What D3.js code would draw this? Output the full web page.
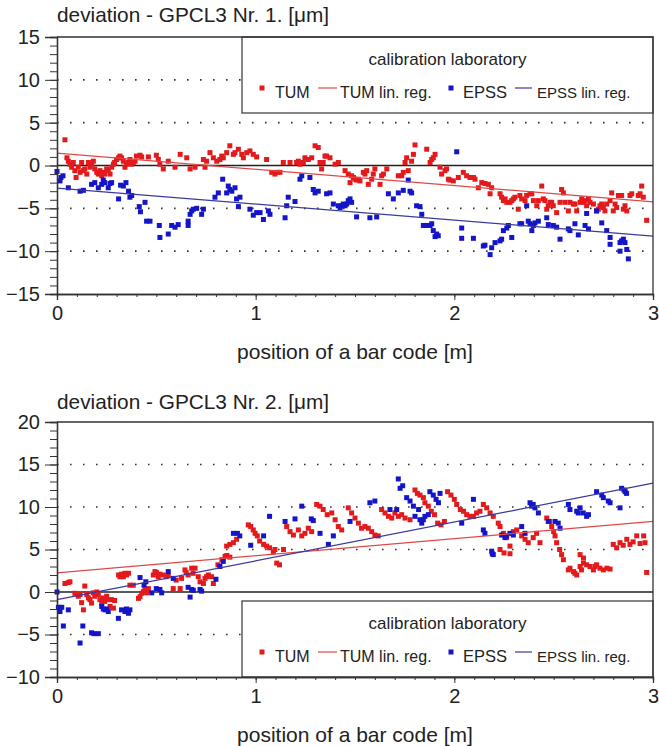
<!DOCTYPE html>
<html><head><meta charset="utf-8">
<script src="https://cdn.jsdelivr.net/npm/d3@7"></script>
<style>
body{margin:0;background:#fff}
text{font-family:"Liberation Sans",Arial,Helvetica,sans-serif;fill:#222}
</style>
</head><body>
<svg id="c" width="659" height="746"></svg>
<script>
// ---------------- data ----------------
const titles = ["deviation - GPCL3 Nr. 1. [\u03bcm]", "deviation - GPCL3 Nr. 2. [\u03bcm]"];
const xLabel = "position of a bar code [m]";
const legendTitle = "calibration laboratory";
const legendLabels = ["TUM", "TUM lin. reg.", "EPSS", "EPSS lin. reg."];
const xTicks = [0, 1, 2, 3];
const yTicks1 = [-15, -10, -5, 0, 5, 10, 15];
const yGrid1 = [-10, -5, 5, 10];
const yTicks2 = [-10, -5, 0, 5, 10, 15, 20];
const yGrid2 = [-5, 5, 10, 15];

// regression lines: value at x=0 and at x=3
const tumReg1 = [1.45, -4.24];
const epssReg1 = [-2.64, -8.24];
const tumReg2 = [2.25, 8.3];
const epssReg2 = [-0.9, 12.8];

const tum1 = [
[0.04,3.0],[0.05,0.9],[0.057,0.5],[0.065,0.15],[0.074,-0.2],[0.082,0.35],[0.09,-0.6],[0.096,-1.4],[0.107,-0.2],[0.116,-0.8],[0.124,0.35],[0.133,-0.6],[0.14,-0.4],[0.15,-1.0],[0.158,0.35],[0.166,-0.2],[0.174,0.15],[0.183,0.5],[0.19,-0.4],[0.2,-0.8],[0.208,-1.0],[0.216,-0.6],[0.225,-1.2],[0.233,-0.8],[0.24,-1.0],[0.25,-0.4],[0.258,-0.6],[0.267,-1.0],[0.275,-0.2],[0.284,0.15],[0.29,0.35],[0.3,0.7],[0.31,0.9],[0.317,1.1],[0.325,0.9],[0.334,0.5],[0.342,-0.2],[0.35,0.15],[0.36,0.35],[0.367,0.7],[0.376,0.15],[0.384,0.35],[0.393,0.5],[0.40,1.1],[0.418,1.2],[0.426,1.0],[0.46,1.0],[0.50,1.2],[0.51,0.7],[0.518,0.15],[0.535,-0.4],[0.56,0.5],[0.594,-0.2],[0.62,1.3],[0.653,0.9],[0.67,-0.4],[0.695,-0.2],[0.737,0.7],[0.745,-0.2],[0.753,0.5],[0.77,1.5],[0.787,0.9],[0.804,0.5],[0.82,0.7],[0.829,1.1],[0.837,0.9],[0.854,1.5],[0.87,2.3],[0.888,1.3],[0.896,1.5],[0.913,1.9],[0.93,1.3],[0.938,0.9],[0.955,1.5],[0.971,1.7],[0.988,1.3],[1.005,1.0],
[1.055,0.7],[1.081,-0.8],[1.097,-1.0],[1.106,-0.8],[1.122,-0.8],[1.139,0.35],[1.173,0.35],[1.206,0.35],[1.215,0.5],[1.223,0.15],[1.24,0.35],[1.248,0.9],[1.265,0.7],[1.282,0.9],[1.299,2.3],[1.315,2.1],[1.324,0.35],[1.332,-0.4],[1.34,0.35],[1.349,1.1],[1.357,1.1],[1.374,0.9],[1.4,0.15],[1.416,0.35],[1.45,-0.6],[1.466,-1.0],[1.475,-2.0],[1.483,-1.2],[1.492,-1.4],[1.5,-1.6],[1.508,-1.7],[1.517,-1.6],[1.525,-1.8],[1.542,-0.8],[1.55,-1.0],[1.559,-0.6],[1.567,-2.2],[1.584,-1.6],[1.592,-1.0],[1.6,-0.4],[1.626,-2.2],[1.634,-1.2],[1.643,-1.0],[1.66,-0.4],[1.718,-1.2],[1.735,-1.2],[1.743,-0.8],[1.752,0.35],[1.76,0.9],[1.768,-0.6],[1.785,0.5],[1.794,1.3],[1.802,2.4],[1.861,1.9],[1.878,0.35],[1.886,0.7],[1.894,0.9],[1.903,1.3],[1.928,-0.2],[1.936,-1.0],[1.953,-0.6],[1.961,-0.4],[1.97,-1.6],[1.978,-1.7],[1.995,-1.8],[2.02,-1.4],
[2.045,-0.8],[2.062,-1.2],[2.079,-1.4],[2.096,-1.4],[2.104,-1.6],[2.121,-2.6],[2.138,-2.0],[2.154,-2.1],[2.171,-2.2],[2.18,-3.3],[2.188,-2.6],[2.23,-3.3],[2.238,-3.7],[2.247,-4.1],[2.255,-3.9],[2.264,-4.3],[2.28,-4.3],[2.289,-4.1],[2.297,-3.9],[2.305,-3.7],[2.322,-5.1],[2.33,-3.5],[2.339,-3.9],[2.356,-4.1],[2.364,-3.5],[2.381,-3.3],[2.39,-3.3],[2.398,-4.1],[2.415,-4.7],[2.423,-4.1],[2.44,-2.4],[2.448,-3.9],[2.456,-4.1],[2.465,-5.1],[2.473,-4.7],[2.482,-4.3],[2.49,-4.3],[2.498,-4.7],[2.515,-5.5],[2.532,-4.3],[2.54,-2.8],[2.549,-3.2],[2.557,-4.3],[2.574,-5.3],[2.582,-4.3],[2.599,-4.5],[2.607,-4.5],[2.616,-5.3],[2.633,-4.3],[2.641,-3.9],[2.649,-4.3],[2.658,-4.1],[2.666,-4.7],[2.675,-3.9],[2.683,-4.3],[2.7,-4.5],[2.716,-5.3],[2.725,-5.1],[2.733,-4.7],[2.742,-4.5],[2.75,-4.9],[2.758,-5.3],[2.767,-4.5],[2.784,-4.1],[2.792,-3.2],[2.8,-5.3],[2.809,-4.5],[2.817,-4.9],[2.826,-3.5],[2.842,-3.5],[2.851,-5.1],[2.859,-4.7],[2.868,-5.3],[2.884,-3.5],[2.893,-3.3],[2.926,-3.5],[2.935,-3.3],[2.943,-2.4],[2.951,-3.7],[2.968,-6.4]
];

const epss1 = [
[0.0,-0.7],[0.015,-1.8],[0.02,-1.4],[0.03,-1.2],[0.057,-2.6],[0.116,-3.0],[0.133,-2.9],[0.174,-2.2],[0.19,-2.0],[0.208,-2.6],[0.225,-2.2],[0.233,-1.7],[0.24,-2.0],[0.258,-2.6],[0.267,-2.1],[0.275,-2.0],[0.31,-3.9],[0.32,-2.3],[0.334,-2.4],[0.347,-2.0],[0.36,-3.0],[0.367,-3.7],[0.376,-3.5],[0.414,-4.8],[0.42,-5.4],[0.443,-4.3],[0.451,-6.5],[0.468,-6.5],[0.515,-7.0],[0.518,-8.4],[0.56,-8.0],[0.577,-7.0],[0.594,-7.2],[0.61,-6.9],[0.66,-6.5],[0.66,-7.0],[0.67,-5.7],[0.678,-5.3],[0.686,-5.1],[0.703,-5.0],[0.728,-5.7],[0.737,-5.1],[0.795,-3.7],[0.812,-3.2],[0.834,-1.6],[0.854,-3.2],[0.862,-2.4],[0.87,-2.8],[0.88,-3.0],[0.896,-2.6],[0.904,-3.9],[0.913,-4.8],[0.921,-3.7],[0.971,-5.1],[0.988,-5.8],[1.005,-5.5],
[1.022,-5.5],[1.039,-6.3],[1.064,-5.3],[1.072,-5.7],[1.148,-6.1],[1.156,-4.7],[1.164,-3.7],[1.198,-4.2],[1.223,-1.6],[1.232,-1.2],[1.273,-1.4],[1.29,-2.8],[1.299,-3.2],[1.315,-3.0],[1.357,-3.3],[1.374,-3.2],[1.391,-4.5],[1.416,-4.7],[1.425,-4.9],[1.433,-4.7],[1.441,-4.5],[1.45,-4.7],[1.458,-4.5],[1.466,-4.1],[1.475,-3.9],[1.483,-4.3],[1.508,-6.0],[1.575,-6.1],[1.609,-6.0],[1.668,-3.3],[1.693,-3.9],[1.718,-3.2],[1.743,-2.9],[1.768,-1.7],[1.777,-3.0],[1.785,-3.2],[1.81,-4.7],[1.827,-4.8],[1.836,-5.7],[1.844,-7.0],[1.861,-7.0],[1.878,-7.0],[1.886,-6.8],[1.894,-7.6],[1.903,-8.3],[1.911,-8.0],[1.919,-8.2],[2.012,1.6],
[2.037,-7.3],[2.037,-8.5],[2.096,-8.5],[2.146,-9.4],[2.154,-9.3],[2.18,-10.4],[2.188,-9.6],[2.205,-9.0],[2.23,-8.8],[2.238,-8.6],[2.247,-7.6],[2.264,-7.3],[2.272,-7.0],[2.289,-8.4],[2.33,-6.8],[2.339,-6.8],[2.364,-4.7],[2.372,-6.5],[2.381,-6.8],[2.39,-7.6],[2.398,-7.0],[2.406,-6.7],[2.423,-6.5],[2.465,-6.1],[2.473,-6.9],[2.498,-7.0],[2.515,-7.2],[2.532,-8.6],[2.574,-7.4],[2.582,-7.6],[2.607,-6.8],[2.624,-8.1],[2.658,-7.0],[2.666,-5.6],[2.675,-7.4],[2.716,-5.3],[2.742,-6.7],[2.767,-7.6],[2.784,-8.4],[2.784,-9.2],[2.834,-9.0],[2.842,-8.8],[2.851,-8.6],[2.859,-9.0],[2.834,-10.0],[2.868,-9.8],[2.876,-10.9]
];

const tum2 = [
[0.04,1.0],[0.057,1.1],[0.065,1.2],[0.09,-0.15],[0.098,-0.2],[0.107,-0.5],[0.116,-0.3],[0.124,-1.25],[0.133,-2.1],[0.14,0.7],[0.15,-0.3],[0.158,-0.7],[0.166,-0.9],[0.174,-1.3],[0.183,-0.1],[0.19,-0.5],[0.2,0.0],[0.208,-0.3],[0.216,-0.9],[0.225,-1.3],[0.233,-0.7],[0.24,-1.1],[0.25,-0.5],[0.258,-0.9],[0.267,-1.7],[0.275,-0.9],[0.284,-1.9],[0.29,-1.0],[0.31,2.0],[0.317,1.8],[0.325,2.1],[0.334,1.8],[0.342,2.2],[0.35,2.0],[0.36,2.2],[0.367,0.8],[0.384,0.8],[0.41,-0.75],[0.418,-0.55],[0.426,-0.15],[0.435,0.05],[0.443,0.25],[0.451,-0.1],[0.46,0.4],[0.485,2.0],[0.493,2.4],[0.5,2.3],[0.51,1.8],[0.518,2.1],[0.535,2.0],[0.55,1.8],[0.56,2.0],[0.585,0.4],[0.6,1.4],[0.62,0.4],[0.627,1.6],[0.644,2.6],[0.65,2.3],[0.66,2.0],[0.678,2.8],[0.685,2.2],[0.695,2.8],[0.711,1.8],[0.72,1.2],[0.737,1.0],[0.745,1.6],[0.753,1.8],[0.762,2.0],[0.778,1.8],[0.787,1.0],[0.81,3.2],[0.83,3.8],[0.846,4.2],[0.855,4.3],[0.87,4.1],
[0.854,5.4],[0.87,5.6],[0.888,5.8],[0.904,6.2],[0.963,7.9],[0.975,7.7],[0.988,7.3],[0.997,6.9],[1.008,6.6],[1.02,6.0],[1.04,5.6],[1.055,5.4],[1.07,5.2],[1.089,4.7],[1.097,5.0],[1.106,3.4],[1.12,3.2],[1.14,5.0],[1.156,7.7],[1.173,7.1],[1.19,6.7],[1.215,7.3],[1.232,6.6],[1.248,6.9],[1.265,7.5],[1.282,7.1],[1.307,10.3],[1.324,10.1],[1.34,9.7],[1.36,9.1],
[1.383,9.3],[1.4,8.5],[1.416,7.7],[1.433,7.3],[1.466,9.9],[1.483,9.3],[1.5,8.7],[1.517,8.1],[1.533,7.5],[1.55,7.7],[1.567,7.5],[1.584,7.1],[1.6,6.7],[1.617,6.6],[1.634,9.7],[1.651,9.3],[1.668,8.9],[1.685,8.7],[1.701,9.3],[1.718,8.9],[1.735,9.1],[1.752,8.7],[1.777,8.5],[1.802,12.0],[1.814,11.6],[1.827,11.4],[1.844,11.1],[1.852,10.5],[1.869,10.1],[1.884,9.5],[1.9,9.1],[1.916,8.1],[1.933,7.9],[1.95,8.3],[1.966,11.8],[1.983,11.4],[2.0,10.9],[2.012,10.3],[2.03,9.7],[2.046,9.5],[2.062,9.1],[2.079,8.9],[2.096,8.9],[2.112,9.3],[2.129,9.5],[2.146,10.3],[2.163,9.9],[2.18,9.3],[2.196,8.9],[2.221,8.1],[2.23,7.7],[2.247,6.9],[2.263,6.4],[2.28,5.4],[2.297,7.1],[2.314,7.3],[2.339,6.6],[2.356,6.2],[2.372,5.8],[2.397,6.4],[2.414,6.9],[2.431,5.8],[2.465,8.7],[2.48,8.3],[2.49,7.7],[2.5,7.1],[2.507,6.6],[2.515,5.8],[2.53,5.0],[2.54,4.4],[2.549,3.8],[2.23,5.0],[2.25,4.6],[2.28,4.5],
[2.574,2.6],[2.582,2.8],[2.6,2.4],[2.607,2.2],[2.616,2.0],[2.633,3.0],[2.633,4.4],[2.64,2.6],[2.65,3.4],[2.65,4.0],[2.666,3.2],[2.683,3.0],[2.7,2.6],[2.708,3.0],[2.716,3.2],[2.733,2.8],[2.75,2.6],[2.768,2.8],[2.784,2.7],[2.8,5.6],[2.817,5.2],[2.834,5.8],[2.85,5.5],[2.868,6.2],[2.884,5.6],[2.9,5.9],[2.918,6.6],[2.935,5.7],[2.953,6.6],[2.96,5.8],[2.968,2.3]
];

const epss2 = [
[0.0,0.0],[0.007,-1.8],[0.015,-2.3],[0.024,-1.8],[0.032,-4.0],[0.057,-2.1],[0.116,-6.0],[0.13,-4.0],[0.174,-4.8],[0.186,-4.9],[0.208,-4.9],[0.225,-1.7],[0.233,-2.0],[0.242,-2.1],[0.25,-2.0],[0.258,-2.3],[0.309,-3.1],[0.325,-2.1],[0.342,-2.3],[0.35,-2.0],[0.36,-2.5],[0.367,-2.1],[0.418,1.7],[0.438,0.8],[0.447,1.2],[0.477,-0.1],[0.5,0.4],[0.518,0.3],[0.527,-0.1],[0.56,2.4],[0.585,1.6],[0.66,0.55],[0.67,-0.6],[0.678,0.3],[0.686,0.2],[0.72,0.3],[0.728,0.1],[0.8,1.5],[0.82,3.0],[0.837,3.6],
[0.888,6.9],[0.908,6.9],[0.92,6.6],[0.975,5.5],[1.04,6.6],[1.07,8.9],[1.148,8.3],[1.198,8.6],[1.232,10.1],[1.28,8.6],[1.29,8.4],[1.324,6.9],[1.366,5.6],[1.391,6.6],[1.475,8.3],[1.575,10.5],[1.6,10.7],[1.676,9.7],[1.71,9.7],[1.718,13.3],[1.727,12.2],[1.74,12.5],[1.76,11.1],[1.777,10.7],[1.794,10.1],[1.802,8.9],[1.82,9.7],[1.827,8.5],[1.836,8.1],[1.844,8.5],[1.852,8.9],[1.869,9.1],[1.877,11.8],[1.894,11.4],[1.908,10.9],[1.92,10.5],[1.928,11.6],[2.037,8.1],[2.096,10.9],[2.146,7.3],[2.154,6.9],[2.188,4.8],[2.196,4.4],[2.191,4.5],[2.238,6.7],[2.255,6.4],[2.263,6.6],[2.28,6.9],[2.297,6.7],[2.339,7.7],[2.356,6.9],[2.381,10.5],[2.389,10.1],[2.397,10.3],[2.406,9.9],[2.423,9.3],[2.473,8.3],[2.507,8.3],[2.523,8.1],[2.532,7.5],[2.574,10.3],[2.582,9.7],[2.616,9.5],[2.624,9.3],[2.633,9.9],[2.649,9.3],[2.666,8.9],[2.675,9.1],[2.716,11.8],[2.742,11.4],[2.75,11.1],[2.775,10.7],[2.784,10.5],[2.834,9.9],[2.842,12.2],[2.854,12.0],[2.86,11.8],[2.867,11.6]
];

// ---------------- drawing ----------------
const RED = "#e31a1c", BLUE = "#1414c8";
const REDLINE = "#e04848", BLUELINE = "#3a3aa0";
const svg = d3.select("#c");
const L = 57, R = 653;

const panels = [
  {title: titles[0], titleY: 22, top: 37, bottom: 294, domain: [-15, 15], ticks: yTicks1, grid: yGrid1,
   tum: tum1, epss: epss1, tumReg: tumReg1, epssReg: epssReg1, legTop: 37},
  {title: titles[1], titleY: 409, top: 422, bottom: 677, domain: [-10, 20], ticks: yTicks2, grid: yGrid2,
   tum: tum2, epss: epss2, tumReg: tumReg2, epssReg: epssReg2, legTop: 601}
];

panels.forEach(p => {
  const g = svg.append("g");
  const x = d3.scaleLinear().domain([0, 3]).range([L, R]);
  const y = d3.scaleLinear().domain(p.domain).range([p.bottom, p.top]);

  // title
  g.append("text").attr("x", L).attr("y", p.titleY).attr("font-size", 20.8).text(p.title);

  // dotted grid
  g.selectAll(".grid").data(p.grid).join("line")
    .attr("x1", L).attr("x2", R).attr("y1", d => y(d)).attr("y2", d => y(d))
    .attr("stroke", "#333").attr("stroke-width", 1.6).attr("stroke-dasharray", "1.6,11.4");

  // zero line
  g.append("line").attr("x1", L).attr("x2", R).attr("y1", y(0)).attr("y2", y(0))
    .attr("stroke", "#222").attr("stroke-width", 1.3);

  // points
  const sz = 5;
  g.selectAll(".tum").data(p.tum).join("rect")
    .attr("x", d => x(d[0]) - sz/2).attr("y", d => y(d[1]) - sz/2)
    .attr("width", sz).attr("height", sz).attr("fill", RED);
  g.selectAll(".epss").data(p.epss).join("rect")
    .attr("x", d => x(d[0]) - sz/2).attr("y", d => y(d[1]) - sz/2)
    .attr("width", sz).attr("height", sz).attr("fill", BLUE);

  // regression lines
  g.append("line").attr("x1", x(0)).attr("x2", x(3)).attr("y1", y(p.tumReg[0])).attr("y2", y(p.tumReg[1]))
    .attr("stroke", REDLINE).attr("stroke-width", 1.2);
  g.append("line").attr("x1", x(0)).attr("x2", x(3)).attr("y1", y(p.epssReg[0])).attr("y2", y(p.epssReg[1]))
    .attr("stroke", BLUELINE).attr("stroke-width", 1.2);

  // legend
  const lg = g.append("g").attr("transform", `translate(242,${p.legTop})`);
  lg.append("rect").attr("x", 0).attr("y", 0).attr("width", R - 242).attr("height", 76)
    .attr("fill", "#fff").attr("stroke", "#444").attr("stroke-width", 1.3);
  lg.append("text").attr("x", (R - 242) / 2).attr("y", 28).attr("text-anchor", "middle")
    .attr("font-size", 17).text(legendTitle);
  lg.append("rect").attr("x", 20 - 2.5).attr("y", 51 - 2.5).attr("width", 5).attr("height", 5).attr("fill", RED);
  lg.append("text").attr("x", 33).attr("y", 61).attr("font-size", 16).text(legendLabels[0]);
  lg.append("line").attr("x1", 76).attr("x2", 95).attr("y1", 51).attr("y2", 51).attr("stroke", REDLINE).attr("stroke-width", 1.2);
  lg.append("text").attr("x", 98).attr("y", 61).attr("font-size", 16).text(legendLabels[1]);
  lg.append("rect").attr("x", 209 - 2.5).attr("y", 51 - 2.5).attr("width", 5).attr("height", 5).attr("fill", BLUE);
  lg.append("text").attr("x", 221).attr("y", 61).attr("font-size", 16.5).text(legendLabels[2]);
  lg.append("line").attr("x1", 273).attr("x2", 290).attr("y1", 51).attr("y2", 51).attr("stroke", BLUELINE).attr("stroke-width", 1.2);
  lg.append("text").attr("x", 295).attr("y", 61).attr("font-size", 15).text(legendLabels[3]);

  // frame top & right
  g.append("path").attr("d", `M${L},${p.top}H${R}V${p.bottom}`).attr("fill", "none")
    .attr("stroke", "#333").attr("stroke-width", 1.3);

  // y axis: minor + major
  const minorY = d3.range(p.domain[0], p.domain[1] + 1, 1);
  const yMinor = g.append("g").attr("transform", `translate(${L},0)`)
    .call(d3.axisLeft(y).tickValues(minorY).tickSize(7).tickFormat(""));
  const yMajor = g.append("g").attr("transform", `translate(${L},0)`)
    .call(d3.axisLeft(y).tickValues(p.ticks).tickSize(12).tickPadding(5).tickFormat(d3.format("d")));
  [yMinor, yMajor].forEach(a => {
    a.select(".domain").attr("stroke", "#333").attr("stroke-width", 1.3);
    a.selectAll(".tick line").attr("stroke", "#333");
    a.selectAll("text").attr("font-size", 20).attr("font-family", '"Liberation Sans",Arial,sans-serif').attr("fill", "#222");
  });

  // x axis: minor + major
  const minorX = d3.range(0, 31).map(i => i / 10);
  const xMinor = g.append("g").attr("transform", `translate(0,${p.bottom})`)
    .call(d3.axisBottom(x).tickValues(minorX).tickSize(3).tickFormat(""));
  const xMajor = g.append("g").attr("transform", `translate(0,${p.bottom})`)
    .call(d3.axisBottom(x).tickValues(xTicks).tickSize(6).tickPadding(6).tickFormat(d3.format("d")));
  [xMinor, xMajor].forEach(a => {
    a.select(".domain").attr("stroke", "#333").attr("stroke-width", 1.3);
    a.selectAll(".tick line").attr("stroke", "#333");
    a.selectAll("text").attr("font-size", 20).attr("font-family", '"Liberation Sans",Arial,sans-serif').attr("fill", "#222");
  });

  // x label
  g.append("text").attr("x", (L + R) / 2).attr("y", p.bottom + 65).attr("text-anchor", "middle")
    .attr("font-size", 21).text(xLabel);
});
</script>
</body></html>
